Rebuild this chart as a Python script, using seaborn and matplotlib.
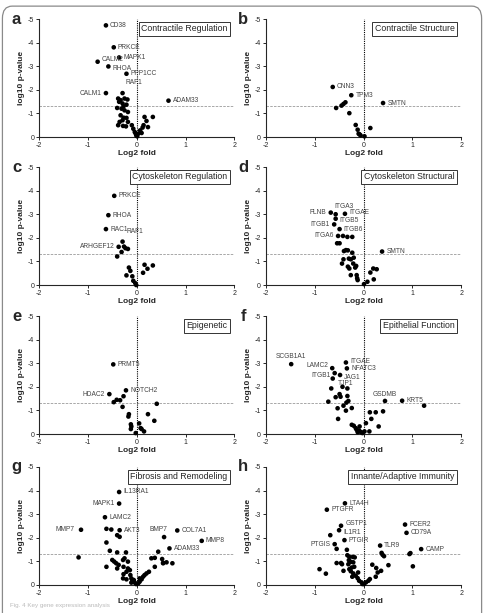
import numpy as np
import pandas as pd
import matplotlib
matplotlib.use("Agg")
import matplotlib.pyplot as plt
import seaborn as sns
from matplotlib.patches import FancyBboxPatch

# ---- data: log2 fold change / log10 p-value (negative, axis inverted) ----
# a - contractile regulation
a_lfc = [-0.38, -0.33, -0.25, -0.19, -0.36, -0.29, -0.27, -0.21, -0.40, -0.31, -0.25, -0.18,
         -0.33, -0.27, -0.21, -0.29, -0.35, -0.18, -0.38, -0.28, -0.22, -0.10, -0.07, -0.04,
         -0.02, -0.01, 0.01, 0.03, 0.07, 0.12, 0.14, 0.16, 0.20, 0.33, 0.23, 0.10]
a_logp = [-1.63, -1.56, -1.63, -1.59, -1.49, -1.42, -1.30, -1.37, -1.23, -1.20, -1.13, -1.06,
          -0.92, -0.82, -0.81, -0.71, -0.64, -0.64, -0.50, -0.47, -0.45, -0.50, -0.35, -0.21,
          -0.14, -0.07, -0.03, -0.14, -0.28, -0.40, -0.50, -0.85, -0.68, -0.85, -0.42, -0.17]
a_genes = ["CD38", "PRKCE", "MAPK1", "CALM2", "RHOA", "PPP1CC", "RAF1", "CALM1", "ADAM33"]
a_gene_lfc = [-0.63, -0.47, -0.36, -0.80, -0.58, -0.21, -0.29, -0.63, 0.65]
a_gene_logp = [-4.73, -3.80, -3.37, -3.19, -2.99, -2.68, -1.86, -1.86, -1.54]

# b - contractile structure
b_lfc = [-0.56, -0.45, -0.41, -0.37, -0.29, -0.16, -0.12, -0.08, -0.06, 0.02, 0.14, -0.10]
b_logp = [-1.23, -1.33, -1.40, -1.47, -1.01, -0.51, -0.31, -0.11, -0.07, -0.03, -0.38, -0.14]
b_genes = ["CNN3", "TPM3", "SMTN"]
b_gene_lfc = [-0.63, -0.25, 0.40]
b_gene_logp = [-2.12, -1.77, -1.44]

# c - cytoskeleton regulation
c_lfc = [-0.26, -0.23, -0.18, -0.31, -0.40, -0.16, -0.13, -0.21, -0.09, -0.07, -0.03, -0.01,
         0.16, 0.33, 0.22, 0.13]
c_logp = [-1.63, -1.56, -1.53, -1.40, -1.21, -0.74, -0.60, -0.41, -0.37, -0.18, -0.08, 0.0,
          -0.86, -0.83, -0.69, -0.52]
c_genes = ["PRKCE", "RHOA", "RAC1", "RAF1", "ARHGEF12"]
c_gene_lfc = [-0.46, -0.58, -0.63, -0.29, -0.37]
c_gene_logp = [-3.78, -2.96, -2.37, -1.84, -1.62]

# d - cytoskeleton structural
d_lfc = [-0.42, -0.33, -0.23, -0.54, -0.49, -0.40, -0.36, -0.32, -0.23, -0.41, -0.30, -0.26,
         -0.20, -0.44, -0.21, -0.32, -0.29, -0.17, -0.15, -0.26, -0.14, -0.13, -0.12, 0.01,
         0.08, 0.14, 0.20, 0.27, 0.21]
d_logp = [-2.08, -2.04, -2.04, -1.77, -1.77, -1.44, -1.48, -1.47, -1.37, -1.09, -1.12, -1.09,
          -1.16, -0.91, -0.91, -0.78, -0.70, -0.74, -0.81, -0.42, -0.42, -0.29, -0.21, -0.04,
          -0.14, -0.53, -0.70, -0.67, -0.24]
d_genes = ["FLNB", "ITGA3", "ITGAE", "ITGB5", "ITGB1", "ITGB6", "ITGA6", "SMTN"]
d_gene_lfc = [-0.67, -0.57, -0.38, -0.57, -0.60, -0.49, -0.52, 0.38]
d_gene_logp = [-3.07, -3.00, -3.02, -2.81, -2.57, -2.37, -2.08, -1.42]

# e - epigenetic
e_lfc = [-0.27, -0.47, -0.41, -0.34, -0.29, -0.16, -0.17, -0.12, -0.11, -0.12, -0.02, 0.05,
         0.08, 0.10, 0.15, 0.23, 0.36, 0.41]
e_logp = [-1.60, -1.35, -1.45, -1.43, -1.15, -0.84, -0.74, -0.41, -0.32, -0.21, -0.04, -0.45,
          -0.25, -0.21, -0.11, -0.84, -0.56, -1.28]
e_genes = ["PRMT5", "NOTCH2", "HDAC2"]
e_gene_lfc = [-0.48, -0.22, -0.56]
e_gene_logp = [-2.95, -1.85, -1.69]

# f - epithelial function
f_lfc = [1.24, -0.66, -0.43, -0.33, -0.57, -0.49, -0.47, -0.33, -0.72, -0.35, -0.31, -0.41,
         -0.53, -0.24, -0.36, -0.52, -0.24, -0.20, -0.16, -0.08, -0.14, -0.10, -0.05, -0.02,
         0.02, 0.05, 0.12, 0.13, 0.16, 0.25, 0.40, 0.31, -0.12, -0.09]
f_logp = [-1.20, -1.93, -2.00, -1.93, -1.56, -1.69, -1.58, -1.61, -1.37, -1.33, -1.40, -1.20,
          -1.09, -1.10, -0.99, -0.64, -0.39, -0.35, -0.25, -0.32, -0.18, -0.11, -0.08, -0.04,
          -0.11, -0.46, -0.11, -0.92, -0.64, -0.92, -0.96, -0.32, -0.08, -0.15]
f_genes = ["SCGB1A1", "LAMC2", "ITGAE", "NFATC3", "ITGB1", "JAG1", "TJP1", "GSDMB", "KRT5"]
f_gene_lfc = [-1.48, -0.64, -0.36, -0.34, -0.59, -0.48, -0.63, 0.44, 0.79]
f_gene_logp = [-2.96, -2.79, -3.03, -2.78, -2.58, -2.50, -2.35, -1.40, -1.41]

# g - fibrosis and remodeling
g_lfc = [-0.62, -0.52, -0.40, -0.35, -0.62, -0.55, -0.40, -0.22, 0.44, -1.19, -0.62, -0.50,
         -0.46, -0.42, -0.37, -0.28, -0.25, -0.18, -0.40, -0.27, -0.18, -0.21, -0.14, -0.27,
         -0.13, -0.28, -0.21, -0.11, -0.09, -0.04, -0.01, 0.03, 0.06, 0.10, 0.13, 0.16,
         0.20, 0.25, 0.30, 0.37, 0.37, 0.52, 0.54, 0.61, 0.73, 0.54, 0.06, -0.06, -0.11]
g_logp = [-2.38, -2.35, -2.11, -2.04, -1.80, -1.45, -1.38, -1.38, -1.41, -1.17, -0.77, -1.06,
          -0.99, -0.92, -0.85, -1.06, -1.13, -0.99, -0.70, -0.77, -0.70, -0.56, -0.63, -0.46,
          -0.42, -0.28, -0.24, -0.28, -0.18, -0.10, -0.04, -0.07, -0.14, -0.24, -0.35, -0.42,
          -0.49, -0.56, -1.13, -1.15, -0.77, -1.10, -0.94, -0.96, -0.92, -0.92, -0.28, -0.21, -0.10]
g_genes = ["IL13RA1", "MAPK1", "LAMC2", "MMP7", "AKT3", "COL7A1", "BMP7", "MMP8", "ADAM33"]
g_gene_lfc = [-0.36, -0.36, -0.65, -1.14, -0.35, 0.83, 0.56, 1.33, 0.67]
g_gene_logp = [-3.94, -3.45, -2.87, -2.34, -2.32, -2.31, -2.03, -1.87, -1.55]

# h - innate/adaptive immunity
h_lfc = [-0.68, -0.55, -0.34, -0.33, -0.29, -0.22, -0.18, -0.30, -0.26, -0.55, -0.46, -0.44,
         -0.31, -0.21, -0.19, -0.24, -0.41, -0.29, -0.26, -0.21, -0.16, -0.11, -0.23, -0.12,
         -0.09, -0.04, -0.02, 0.01, 0.05, 0.10, 0.13, -0.90, -0.77, 0.18, 0.26, 0.29, 0.25,
         0.36, 0.39, 0.42, 0.51, 0.94, 0.96, 1.01, 0.37]
h_logp = [-2.11, -1.53, -1.49, -1.26, -1.19, -1.19, -1.17, -1.05, -0.98, -0.93, -0.93, -0.88,
          -0.88, -0.96, -0.77, -0.74, -0.60, -0.67, -0.58, -0.49, -0.39, -0.53, -0.35, -0.29,
          -0.18, -0.11, -0.04, -0.04, -0.11, -0.18, -0.25, -0.67, -0.48, -0.86, -0.72, -0.53,
          -0.35, -0.60, -1.28, -1.22, -0.84, -1.31, -1.35, -0.79, -1.36]
h_genes = ["LTA4H", "PTGFR", "GSTP1", "IL1R1", "PTGIS", "PTGIR", "FCER2", "CD79A", "TLR9", "CAMP"]
h_gene_lfc = [-0.38, -0.75, -0.46, -0.50, -0.59, -0.39, 0.85, 0.88, 0.34, 1.18]
h_gene_logp = [-3.46, -3.19, -2.51, -2.32, -1.73, -1.90, -2.56, -2.21, -1.67, -1.52]

panels = [
    ("a", "Contractile Regulation", a_lfc, a_logp, a_genes, a_gene_lfc, a_gene_logp),
    ("b", "Contractile Structure", b_lfc, b_logp, b_genes, b_gene_lfc, b_gene_logp),
    ("c", "Cytoskeleton Regulation", c_lfc, c_logp, c_genes, c_gene_lfc, c_gene_logp),
    ("d", "Cytoskeleton Structural", d_lfc, d_logp, d_genes, d_gene_lfc, d_gene_logp),
    ("e", "Epigenetic", e_lfc, e_logp, e_genes, e_gene_lfc, e_gene_logp),
    ("f", "Epithelial Function", f_lfc, f_logp, f_genes, f_gene_lfc, f_gene_logp),
    ("g", "Fibrosis and Remodeling", g_lfc, g_logp, g_genes, g_gene_lfc, g_gene_logp),
    ("h", "Innante/Adaptive Immunity", h_lfc, h_logp, h_genes, h_gene_lfc, h_gene_logp),
]

# label placement (offset in points, alignment); default is right of the dot
label_style = {
    ("a", "CALM2"): (3, 1.5, "left", "center"),
    ("a", "RHOA"): (3, -1.5, "left", "center"),
    ("a", "CALM1"): (-3, 0, "right", "center"),
    ("a", "RAF1"): (2, 5, "left", "bottom"),
    ("c", "ARHGEF12"): (-3, 0, "right", "center"),
    ("c", "RAF1"): (3, 5, "left", "bottom"),
    ("d", "FLNB"): (-3, 0, "right", "center"),
    ("d", "ITGA3"): (6, 3, "center", "bottom"),
    ("d", "ITGB1"): (-3, 0, "right", "center"),
    ("d", "ITGA6"): (-3, 0, "right", "center"),
    ("d", "ITGAE"): (3, 1, "left", "center"),
    ("d", "ITGB5"): (3, -1.5, "left", "center"),
    ("e", "HDAC2"): (-3, 0, "right", "center"),
    ("f", "SCGB1A1"): (0, 3, "center", "bottom"),
    ("f", "LAMC2"): (-3, 2, "right", "center"),
    ("f", "ITGB1"): (-3, -1.5, "right", "center"),
    ("f", "ITGAE"): (3, 1, "left", "center"),
    ("f", "NFATC3"): (3, 0, "left", "center"),
    ("f", "JAG1"): (3, -2, "left", "center"),
    ("f", "TJP1"): (4, -3.5, "left", "center"),
    ("f", "GSDMB"): (0, 2, "center", "bottom"),
    ("g", "MAPK1"): (-3, 0, "right", "center"),
    ("g", "MMP7"): (-5, 0, "right", "center"),
    ("g", "BMP7"): (-4, 3, "center", "bottom"),
    ("h", "GSTP1"): (3, 1.5, "left", "center"),
    ("h", "IL1R1"): (3, -1.5, "left", "center"),
    ("h", "PTGIS"): (-3, 0, "right", "center"),
}

sns.set_style("ticks")
plt.rcParams["font.family"] = ["Liberation Sans", "DejaVu Sans"]

fig = plt.figure(figsize=(4.85, 6.13), dpi=100)

lefts = [0.0804, 0.548]
bottoms = [0.7765, 0.535, 0.292, 0.0457]
w, h = 0.403, 0.1925

for i, (letter, title, lfc, logp, genes, glfc, glogp) in enumerate(panels):
    ax = fig.add_axes([lefts[i % 2], bottoms[i // 2], w, h])
    df = pd.DataFrame({"lfc": list(lfc) + list(glfc), "logp": list(logp) + list(glogp)})
    sns.scatterplot(data=df, x="lfc", y="logp", ax=ax, color="black", s=11,
                    edgecolor="none", clip_on=False, zorder=3)
    ax.set_xlim(-2, 2)
    ax.set_ylim(0, -5)
    ax.axvline(0, color="black", lw=0.8, ls=(0, (1, 1)), zorder=2)
    ax.axhline(-1.3, color="#9a9a9a", lw=0.6, ls=(0, (3, 1.5)), zorder=1)
    ax.set_xticks([-2, -1, 0, 1, 2])
    ax.set_yticks([0, -1, -2, -3, -4, -5])
    ax.set_xticklabels(["-2", "-1", "0", "1", "2"])
    ax.set_yticklabels(["0", "-1", "-2", "-3", "-4", "-5"])
    ax.tick_params(labelsize=5, length=2.5, width=0.7, pad=1)
    sns.despine(ax=ax)
    for sp in ("left", "bottom"):
        ax.spines[sp].set_linewidth(0.8)
    ax.set_xlabel("Log2 fold", fontsize=6, fontweight="bold", labelpad=1)
    ax.set_ylabel("log10 p-value", fontsize=6, fontweight="bold", labelpad=2)
    ax.text(-0.115, 1.0, letter, transform=ax.transAxes, fontsize=12, fontweight="bold",
            ha="center", va="center")
    ax.text(0.965, 0.955, title, transform=ax.transAxes, fontsize=6.3, ha="right", va="top",
            bbox=dict(boxstyle="square,pad=0.3", fc="white", ec="#333333", lw=0.7), zorder=5)
    for g, gx, gy in zip(genes, glfc, glogp):
        dx, dy, ha, va = label_style.get((letter, g), (3, 0, "left", "center"))
        ax.annotate(g, (gx, gy), xytext=(dx, dy), textcoords="offset points",
                    fontsize=4.8, color="#444444", ha=ha, va=va, zorder=4)

# rounded frame around the figure
frame = FancyBboxPatch((0.005, -0.05), 0.988, 1.04, boxstyle="round,pad=0,rounding_size=0.02",
                       transform=fig.transFigure, fc="none", ec="#8a8a8a", lw=0.9)
fig.patches.append(frame)

fig.text(0.02, 0.012, "Fig. 4 Key gene expression analysis", fontsize=4.5, color="#bbbbbb",
         ha="left", va="center")

fig.savefig("out.png", dpi=100)
